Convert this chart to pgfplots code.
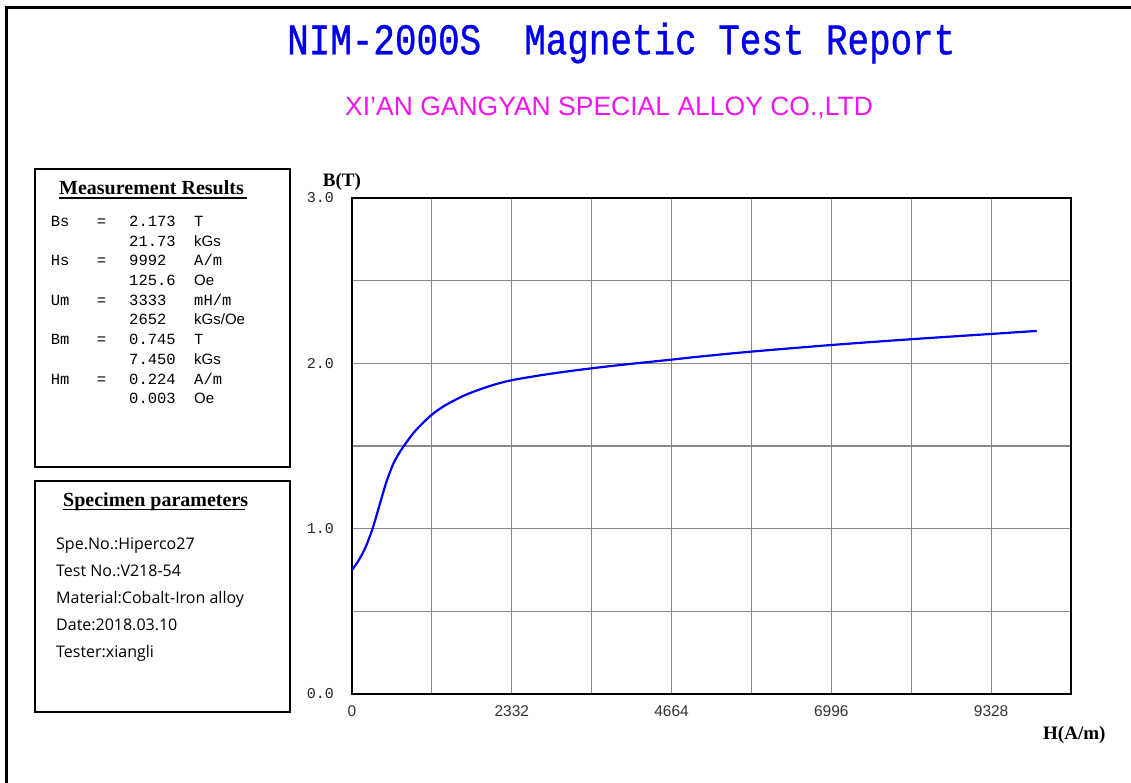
\documentclass[border=0pt]{standalone}
\usepackage{fontspec}
\usepackage{pgfplots}
\pgfplotsset{compat=1.18}
\setmainfont{Liberation Serif}
\newfontfamily\titlefont[FakeStretch=0.82,FakeBold=0.8]{Liberation Mono}
\newfontfamily\subfont{Liberation Sans}
\newfontfamily\monofont{Liberation Mono}
\newfontfamily\sansfont{Liberation Sans}
\newfontfamily\specfont{Open Sans}
\definecolor{titleblue}{RGB}{0,0,235}
\definecolor{submag}{RGB}{240,20,240}
\definecolor{gridgray}{RGB}{135,135,135}
\definecolor{curveblue}{RGB}{0,0,245}
\newcommand{\mf}{\fontsize{15.5}{17}\monofont}
\newcommand{\sff}{\fontsize{15}{17}\sansfont}
\begin{document}
\begin{tikzpicture}[x=1pt,y=1pt]
\useasboundingbox (0,0) rectangle (1131,783);
% outer border
\draw[line width=3pt] (6.5,0) -- (6.5,775.5) -- (1131,775.5);
% boxes
\draw[line width=2pt] (35,316) rectangle (290,614);
\draw[line width=2pt] (35,71) rectangle (290,302);

% titles
\node[anchor=base west, inner sep=0pt] at (287,728.7) {\fontsize{43.8}{50}\titlefont\color{titleblue}NIM-2000S\ \ Magnetic Test Report};
\node[anchor=base west, inner sep=0pt] at (345,667.7) {\fontsize{26.5}{30}\subfont\color{submag}XI’AN GANGYAN SPECIAL ALLOY CO.,LTD};

% Measurement results
\node[anchor=base west, inner sep=0pt] at (59,588) {\fontsize{20}{24}\selectfont\bfseries Measurement Results};
\draw[line width=1.2pt] (59,585) -- (247,585);
\node[anchor=base west, inner sep=0pt] at (50.7,{783-226.5-19.7*0}) {\mf Bs};
\node[anchor=base west, inner sep=0pt] at (96.7,{783-226.5-19.7*0}) {\mf =};
\node[anchor=base west, inner sep=0pt] at (129,{783-226.5-19.7*0}) {\mf 2.173};
\node[anchor=base west, inner sep=0pt] at (194,{783-226.5-19.7*0}) {\mf T};
\node[anchor=base west, inner sep=0pt] at (129,{783-226.5-19.7*1}) {\mf 21.73};
\node[anchor=base west, inner sep=0pt] at (194,{783-226.5-19.7*1}) {\sff kGs};
\node[anchor=base west, inner sep=0pt] at (50.7,{783-226.5-19.7*2}) {\mf Hs};
\node[anchor=base west, inner sep=0pt] at (96.7,{783-226.5-19.7*2}) {\mf =};
\node[anchor=base west, inner sep=0pt] at (129,{783-226.5-19.7*2}) {\mf 9992};
\node[anchor=base west, inner sep=0pt] at (194,{783-226.5-19.7*2}) {\mf A/m};
\node[anchor=base west, inner sep=0pt] at (129,{783-226.5-19.7*3}) {\mf 125.6};
\node[anchor=base west, inner sep=0pt] at (194,{783-226.5-19.7*3}) {\sff Oe};
\node[anchor=base west, inner sep=0pt] at (50.7,{783-226.5-19.7*4}) {\mf Um};
\node[anchor=base west, inner sep=0pt] at (96.7,{783-226.5-19.7*4}) {\mf =};
\node[anchor=base west, inner sep=0pt] at (129,{783-226.5-19.7*4}) {\mf 3333};
\node[anchor=base west, inner sep=0pt] at (194,{783-226.5-19.7*4}) {\mf mH/m};
\node[anchor=base west, inner sep=0pt] at (129,{783-226.5-19.7*5}) {\mf 2652};
\node[anchor=base west, inner sep=0pt] at (194,{783-226.5-19.7*5}) {\sff kGs/Oe};
\node[anchor=base west, inner sep=0pt] at (50.7,{783-226.5-19.7*6}) {\mf Bm};
\node[anchor=base west, inner sep=0pt] at (96.7,{783-226.5-19.7*6}) {\mf =};
\node[anchor=base west, inner sep=0pt] at (129,{783-226.5-19.7*6}) {\mf 0.745};
\node[anchor=base west, inner sep=0pt] at (194,{783-226.5-19.7*6}) {\mf T};
\node[anchor=base west, inner sep=0pt] at (129,{783-226.5-19.7*7}) {\mf 7.450};
\node[anchor=base west, inner sep=0pt] at (194,{783-226.5-19.7*7}) {\sff kGs};
\node[anchor=base west, inner sep=0pt] at (50.7,{783-226.5-19.7*8}) {\mf Hm};
\node[anchor=base west, inner sep=0pt] at (96.7,{783-226.5-19.7*8}) {\mf =};
\node[anchor=base west, inner sep=0pt] at (129,{783-226.5-19.7*8}) {\mf 0.224};
\node[anchor=base west, inner sep=0pt] at (194,{783-226.5-19.7*8}) {\mf A/m};
\node[anchor=base west, inner sep=0pt] at (129,{783-226.5-19.7*9}) {\mf 0.003};
\node[anchor=base west, inner sep=0pt] at (194,{783-226.5-19.7*9}) {\sff Oe};

% Specimen parameters
\node[anchor=base west, inner sep=0pt] at (63,276.3) {\fontsize{20}{24}\selectfont\bfseries Specimen parameters};
\draw[line width=1.2pt] (63,273.3) -- (245,273.3);
\node[anchor=base west, inner sep=0pt] at (56,233) {\fontsize{16}{18}\specfont Spe.No.:Hiperco27};
\node[anchor=base west, inner sep=0pt] at (56,206) {\fontsize{16}{18}\specfont Test No.:V218-54};
\node[anchor=base west, inner sep=0pt] at (56,179.5) {\fontsize{16}{18}\specfont Material:Cobalt-Iron alloy};
\node[anchor=base west, inner sep=0pt] at (56,152.5) {\fontsize{16}{18}\specfont Date:2018.03.10};
\node[anchor=base west, inner sep=0pt] at (56,125.5) {\fontsize{16}{18}\specfont Tester:xiangli};

% axis labels
\node[anchor=base west, inner sep=0pt] at (322.7,596.3) {\fontsize{19}{22}\selectfont\bfseries B(T)};
\node[anchor=base west, inner sep=0pt] at (1043,43) {\fontsize{19}{22}\selectfont\bfseries H(A/m)};

\begin{axis}[
  at={(352pt,89pt)}, anchor=south west,
  scale only axis, width=719pt, height=496pt,
  xmin=0, xmax=10494, ymin=0, ymax=3,
  scaled x ticks=false, scaled y ticks=false,
  xtick={0,2332,4664,6996,9328},
  xticklabels={0,2332,4664,6996,9328},
  minor xtick={1166,3498,5830,8162,10494},
  ytick={0,1,2,3},
  yticklabels={0.0,1.0,2.0,3.0},
  minor ytick={0.5,1.5,2.5},
  grid=both,
  major grid style={gridgray, line width=1.2pt},
  minor grid style={gridgray, line width=1.2pt},
  major tick length=0pt, minor tick length=0pt,
  axis line style={line width=2.5pt, black},
  xticklabel style={font=\fontsize{15.5}{17}\sansfont, text=black!80, anchor=north, inner sep=0pt, yshift=-11pt},
  yticklabel style={font=\fontsize{15}{17}\monofont, text=black!85, anchor=east, inner sep=0pt, xshift=-18pt},
]
\addplot[curveblue, line width=2.2pt, smooth, tension=0.5] coordinates {
(0,0.750) (100,0.810) (200,0.890) (300,1.000) (400,1.140) (500,1.280)
(600,1.390) (700,1.465) (800,1.525) (900,1.580) (1000,1.625) (1166,1.690)
(1300,1.730) (1421,1.760) (1662,1.810) (1999,1.861) (2332,1.898)
(2900,1.937) (3498,1.970) (4100,1.998) (4656,2.022) (5079,2.041)
(5834,2.071) (7002,2.111) (8170,2.146) (9338,2.178) (9994,2.196)
};
\end{axis}
\end{tikzpicture}
\end{document}
